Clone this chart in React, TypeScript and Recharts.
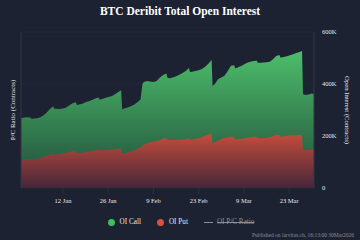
import React from 'react';
import {
  ComposedChart,
  Area,
  XAxis,
  YAxis,
  CartesianGrid,
  Legend,
} from 'recharts';

// days counted from 30 Dec 2025 00:00 UTC; fractional points mark Friday 08:00 expiries
const days = [
  0, 1, 2, 3, 3.3, 4, 5, 6, 7, 8, 9, 10, 10.3, 11, 12, 13, 14, 15, 16, 17, 17.3,
  18, 19, 20, 21, 22, 23, 24, 24.3, 25, 26, 27, 28, 29, 30, 31, 31.3, 32, 33, 34,
  35, 36, 37, 37.6, 38, 39, 40, 41, 42, 43, 44, 45, 45.3, 46, 47, 48, 49, 50, 51,
  52, 52.3, 53, 54, 55, 56, 57, 58, 59, 59.3, 60, 61, 62, 63, 64, 65, 66, 66.3, 67,
  68, 69, 70, 71, 72, 73, 73.3, 74, 75, 76, 77, 78, 79, 80, 80.3, 81, 82, 83, 84,
  85, 86, 87, 87.3, 88, 89, 90, 90.7,
];

// total open interest (calls + puts), thousands of contracts
const totalOI = [
  268, 271, 272, 270, 265, 267, 268, 272, 280, 290, 305, 313, 305, 305, 304, 306, 310, 318, 326, 330, 319,
  321, 324, 330, 334, 338, 344, 348, 340, 341, 346, 350, 353, 360, 368, 376, 303, 306, 310, 314,
  320, 330, 340, 400, 408, 412, 410, 408, 412, 425, 435, 440, 425, 422, 425, 430, 436, 442, 450,
  462, 446, 447, 450, 453, 458, 466, 478, 492, 392, 400, 418, 425, 432, 450, 470, 472, 460, 463,
  468, 475, 482, 486, 488, 489, 482, 482, 483, 484, 486, 495, 508, 512, 502, 503, 506, 510, 513,
  518, 522, 527, 362, 358, 360, 363, 362,
];

// put open interest, thousands of contracts
const putOI = [
  112, 111, 112, 111, 109, 111, 112, 115, 119, 124, 129, 131, 127, 129, 131, 133, 136, 139, 142, 144, 134,
  134, 136, 139, 140, 142, 145, 147, 143, 144, 145, 146, 147, 148, 150, 151, 133, 134, 137, 140,
  145, 150, 157, 163, 166, 172, 176, 179, 181, 185, 190, 192, 186, 185, 185, 186, 186, 187, 188,
  190, 186, 187, 189, 191, 195, 201, 205, 210, 172, 176, 183, 188, 192, 195, 197, 196, 188, 188,
  189, 190, 193, 196, 197, 197, 192, 192, 191, 192, 195, 200, 204, 205, 197, 198, 200, 202, 203,
  203, 204, 205, 146, 145, 146, 147, 147,
];

const xTicks = [13, 27, 41, 55, 69, 83];
const xTickLabels = ['12 Jan', '26 Jan', '9 Feb', '23 Feb', '9 Mar', '23 Mar'];
const yTicks = [0, 200, 400, 600];

const legendItems = [
  { name: 'OI Call', color: '#3fbf5c', kind: 'dot', hidden: false },
  { name: 'OI Put', color: '#d9503e', kind: 'dot', hidden: false },
  { name: 'OI P/C Ratio', color: '#8a8f99', kind: 'line', hidden: true },
];

const data = days.map((d, i) => ({ day: d, total: totalOI[i], put: putOI[i] }));

const BG = '#1c2231';
const FONT = '"Liberation Serif", "DejaVu Serif", serif';

const LegendContent = () => (
  <div
    style={{
      height: 16,
      display: 'flex',
      justifyContent: 'center',
      alignItems: 'center',
      fontFamily: FONT,
      fontSize: 7.2,
      paddingLeft: 2,
    }}
  >
    {legendItems.map((it, i) => (
      <div
        key={it.name}
        style={{ display: 'flex', alignItems: 'center', marginLeft: i === 0 ? 0 : 16 }}
      >
        {it.kind === 'dot' ? (
          <span
            style={{
              width: 7,
              height: 7,
              borderRadius: '50%',
              background: it.color,
              marginRight: 5,
              display: 'inline-block',
            }}
          />
        ) : (
          <span
            style={{
              width: 9,
              height: 1,
              background: it.color,
              marginRight: 4,
              display: 'inline-block',
            }}
          />
        )}
        <span
          style={{
            color: it.hidden ? '#8a8f99' : '#e6e8ec',
            textDecoration: it.hidden ? 'line-through' : 'none',
          }}
        >
          {it.name}
        </span>
      </div>
    ))}
  </div>
);

export default function App() {
  return (
    <div style={{ position: 'relative', width: 360, height: 240, background: BG, overflow: 'hidden' }}>
      <style>{`body { margin: 0; }`}</style>
      <div
        style={{
          position: 'absolute',
          top: 3,
          left: 0,
          width: 360,
          textAlign: 'center',
          color: '#ffffff',
          fontFamily: FONT,
          fontWeight: 'bold',
          fontSize: 11.5,
          lineHeight: '16px',
        }}
      >
        BTC Deribit Total Open Interest
      </div>
      <ComposedChart
        width={360}
        height={240}
        data={data}
        margin={{ top: 32, right: 0, bottom: 10, left: 0 }}
        style={{ fontFamily: FONT }}
      >
        <defs>
          <linearGradient id="callFill" x1="0" y1="0" x2="0" y2="1">
            <stop offset="0%" stopColor="#4dbd6a" />
            <stop offset="100%" stopColor="#1f4a3a" />
          </linearGradient>
          <linearGradient id="putFill" x1="0" y1="0" x2="0" y2="1">
            <stop offset="0%" stopColor="#c44d3c" />
            <stop offset="100%" stopColor="#46263a" />
          </linearGradient>
        </defs>
        <CartesianGrid yAxisId="oi" vertical={false} stroke="#2a3142" strokeWidth={0.6} />
        <XAxis
          dataKey="day"
          type="number"
          domain={[0, 90.7]}
          ticks={xTicks}
          tickFormatter={(v) => xTickLabels[xTicks.indexOf(v)] ?? ''}
          height={26}
          axisLine={false}
          tickLine={{ stroke: '#2a3142' }}
          tickMargin={4}
          tick={{ fill: '#e6e8ec', fontSize: 6.5 }}
        />
        <YAxis
          yAxisId="ratio"
          orientation="left"
          width={21}
          domain={[0, 1]}
          tick={false}
          tickLine={false}
          axisLine={{ stroke: '#303747' }}
          label={{
            value: 'P/C Ratio (Contracts)',
            angle: -90,
            position: 'center',
            dx: 2,
            fill: '#e6e8ec',
            fontSize: 7,
          }}
        />
        <YAxis
          yAxisId="oi"
          orientation="right"
          width={46}
          domain={[0, 600]}
          ticks={yTicks}
          tickFormatter={(v) => (v === 0 ? '0' : `${v}K`)}
          axisLine={{ stroke: '#303747' }}
          tickLine={false}
          tick={{ fill: '#e6e8ec', fontSize: 6.5 }}
          label={{
            value: 'Open Interest (Contracts)',
            angle: 90,
            position: 'center',
            dx: 10,
            fill: '#e6e8ec',
            fontSize: 6.7,
          }}
        />
        <Area
          yAxisId="oi"
          type="linear"
          dataKey="total"
          name="OI Call"
          stroke="none"
          fill="url(#callFill)"
          fillOpacity={1}
          isAnimationActive={false}
        />
        <Area
          yAxisId="oi"
          type="linear"
          dataKey="put"
          name="OI Put"
          stroke="none"
          fill="url(#putFill)"
          fillOpacity={1}
          isAnimationActive={false}
        />
        <Legend verticalAlign="bottom" content={() => <LegendContent />} />
      </ComposedChart>
      <div
        style={{
          position: 'absolute',
          right: 6,
          bottom: 1,
          color: '#8a8f99',
          fontFamily: FONT,
          fontSize: 5.5,
          lineHeight: '8px',
        }}
      >
        Published on larvitas.ch, 16:13:00 30Mar2026
      </div>
    </div>
  );
}
